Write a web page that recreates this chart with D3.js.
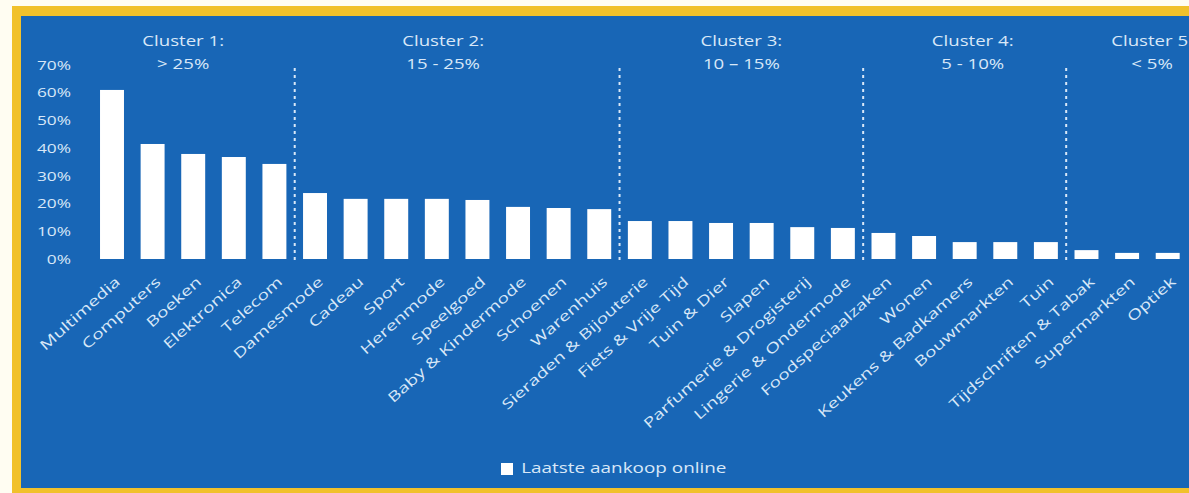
<!DOCTYPE html>
<html lang="nl">
  <head>
    <meta charset="UTF-8" />
    <title>Laatste aankoop online</title>
    <script src="https://d3js.org/d3.v7.min.js"></script>
    <style>
      body {
        margin: 0;
        background: #fffdf2;
      }
      text {
        font-family: "Open Sans", sans-serif;
        fill: #d9e8f8;
      }
    </style>
  </head>
  <body>
    <svg width="1189" height="493"></svg>

    <script>
      var categories = [
        "Multimedia", "Computers", "Boeken", "Elektronica", "Telecom",
        "Damesmode", "Cadeau", "Sport", "Herenmode", "Speelgoed",
        "Baby & Kindermode", "Schoenen", "Warenhuis",
        "Sieraden & Bijouterie", "Fiets & Vrije Tijd", "Tuin & Dier", "Slapen",
        "Parfumerie & Drogisterij", "Lingerie & Ondermode",
        "Foodspeciaalzaken", "Wonen", "Keukens & Badkamers", "Bouwmarkten", "Tuin",
        "Tijdschriften & Tabak", "Supermarkten", "Optiek"
      ];

      // share of last purchase made online
      var values = [
        0.61, 0.415, 0.379, 0.368, 0.343,
        0.238, 0.217, 0.217, 0.217, 0.213,
        0.188, 0.184, 0.18,
        0.137, 0.137, 0.13, 0.13, 0.115, 0.112,
        0.094, 0.083, 0.061, 0.061, 0.061,
        0.032, 0.022, 0.022
      ];

      var yTicks = [0, 0.1, 0.2, 0.3, 0.4, 0.5, 0.6, 0.7];

      // first category of each cluster
      var clusterStart = ["Multimedia", "Damesmode", "Sieraden & Bijouterie", "Foodspeciaalzaken", "Tijdschriften & Tabak"];
      var clusterTitle = ["Cluster 1:", "Cluster 2:", "Cluster 3:", "Cluster 4:", "Cluster 5:"];
      var clusterRange = ["> 25%", "15 - 25%", "10 \u2013 15%", "5 - 10%", "< 5%"];
      var clusterNudge = [-10, -14, 0, 8, 25];

      var legendLabel = "Laatste aankoop online";

      var svg = d3.select("svg");
      var stretch = "scale(1.33,1)";

      // frame
      svg.append("rect").attr("x", 12).attr("y", 6).attr("width", 1189).attr("height", 487).attr("fill", "#f1c12b");
      svg.append("rect").attr("x", 21).attr("y", 16).attr("width", 1168).attr("height", 472).attr("fill", "#1866b6");

      var x = d3.scaleBand()
        .domain(categories)
        .range([91.7, 1188])
        .paddingInner(0.41)
        .paddingOuter(0.205);

      var y = d3.scaleLinear().domain([0, 0.7]).range([259, 65]);

      // y axis
      var yAxis = svg.append("g")
        .attr("transform", "translate(71,0)")
        .call(d3.axisLeft(y).tickValues(yTicks).tickFormat(d3.format(".0%")).tickSize(0).tickPadding(0));
      yAxis.select(".domain").remove();
      yAxis.selectAll("text")
        .attr("x", 0)
        .attr("transform", stretch)
        .style("font-size", "13px")
        .style("font-family", "Open Sans, sans-serif")
        .attr("fill", "#d9e8f8");

      // bars
      svg.selectAll(".bar")
        .data(categories)
        .enter()
        .append("rect")
        .attr("class", "bar")
        .attr("x", function (d) { return x(d); })
        .attr("width", x.bandwidth())
        .attr("y", function (d, i) { return y(values[i]); })
        .attr("height", function (d, i) { return y(0) - y(values[i]); })
        .attr("fill", "#ffffff");

      // x labels
      svg.selectAll(".xlabel")
        .data(categories)
        .enter()
        .append("text")
        .attr("class", "xlabel")
        .attr("text-anchor", "end")
        .style("font-size", "14px")
        .attr("transform", function (d) {
          return "translate(" + (x(d) + x.bandwidth() / 2 + 9) + ",283) rotate(-42) scale(1.38,1)";
        })
        .text(function (d) { return d; });

      // cluster dividers and titles
      var gap = x.step() * x.paddingInner() / 2;
      svg.selectAll(".divider")
        .data(clusterStart.slice(1))
        .enter()
        .append("line")
        .attr("class", "divider")
        .attr("x1", function (d) { return x(d) - gap; })
        .attr("x2", function (d) { return x(d) - gap; })
        .attr("y1", 68)
        .attr("y2", 262)
        .attr("stroke", "#d9e8f8")
        .attr("stroke-width", 2)
        .attr("stroke-dasharray", "3,4");

      var clusters = svg.selectAll(".cluster")
        .data(clusterStart)
        .enter()
        .append("g")
        .attr("class", "cluster")
        .attr("transform", function (d, i) {
          var first = x(d);
          var next = clusterStart[i + 1];
          var last = next ? x(categories[categories.indexOf(next) - 1]) : x(categories[categories.length - 1]);
          var cx = (first + last + x.bandwidth()) / 2 + clusterNudge[i];
          return "translate(" + cx + ",0)";
        });

      clusters.append("text")
        .attr("y", 46)
        .attr("text-anchor", "middle")
        .attr("transform", stretch)
        .style("font-size", "14px")
        .text(function (d, i) { return clusterTitle[i]; });

      clusters.append("text")
        .attr("y", 69)
        .attr("text-anchor", "middle")
        .attr("transform", stretch)
        .style("font-size", "14px")
        .text(function (d, i) { return clusterRange[i]; });

      // legend
      var legend = svg.append("g").attr("transform", "translate(501,463)");
      legend.append("rect").attr("width", 12).attr("height", 12).attr("fill", "#ffffff");
      legend.append("text")
        .attr("x", 15)
        .attr("y", 10)
        .attr("transform", "scale(1.35,1)")
        .style("font-size", "14px")
        .text(legendLabel);
    </script>
  </body>
</html>
